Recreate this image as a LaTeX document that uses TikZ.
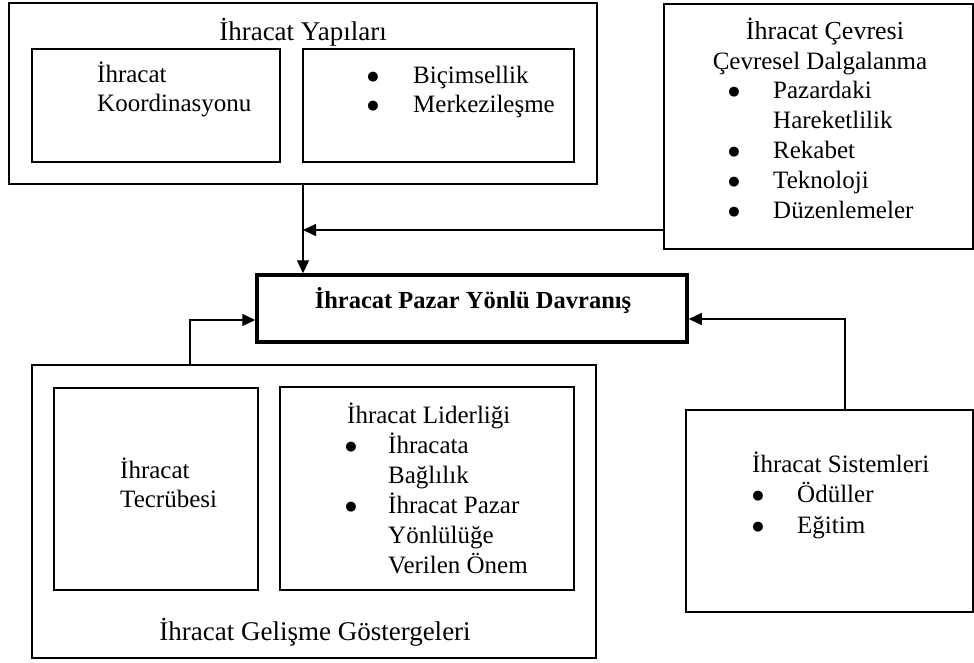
\documentclass[tikz,border=0pt]{standalone}
\usepackage{fontspec}
\setmainfont{Liberation Serif}
\newfontfamily\bulletfamily{DejaVu Sans}
\usetikzlibrary{arrows.meta}

\newcommand\bodyfont{\fontsize{25pt}{30pt}\selectfont}
\newcommand\titlefont{\fontsize{27pt}{32pt}\selectfont}
\newcommand\keyfont{\fontsize{24.5pt}{29pt}\selectfont\bfseries}
\newcommand\bulletfont{\bulletfamily\fontsize{13pt}{16pt}\selectfont}

\tikzset{
  box/.style={draw, line width=1.3pt, inner sep=0pt, rectangle},
  keybox/.style={draw, line width=3.5pt, inner sep=0pt, rectangle},
  txt/.style={anchor=base west, inner sep=0pt, font=\bodyfont},
  ctxt/.style={anchor=base, inner sep=0pt, font=\bodyfont},
  ttl/.style={anchor=base, inner sep=0pt, font=\titlefont},
  % list bullet, its dot about 7.5pt above the text baseline
  blt/.style={anchor=base, inner sep=0pt, font=\bulletfont, yshift=3pt},
  arr/.style={line width=1.3pt, -{Triangle[length=13pt,width=12pt]}},
}

\begin{document}
\begin{tikzpicture}[x=1pt, y=-1pt]
\useasboundingbox (0,0) rectangle (974,662);

% --- boxes ---
\node[box, minimum width=588pt, minimum height=181pt] (yap) at (303,93.5) {};
\node[box, minimum width=248pt, minimum height=113pt] (koo) at (156,105.5) {};
\node[box, minimum width=271pt, minimum height=113pt] (bic) at (438.5,105.5) {};
\node[box, minimum width=309pt, minimum height=245pt] (cev) at (818.5,126.5) {};
\node[keybox, minimum width=430pt, minimum height=67pt] (dav) at (472,308.5) {};
\node[box, minimum width=564pt, minimum height=293pt] (gel) at (314,511.5) {};
\node[box, minimum width=204pt, minimum height=202pt] (tec) at (156,489) {};
\node[box, minimum width=294pt, minimum height=203pt] (lid) at (427,488.5) {};
\node[box, minimum width=287pt, minimum height=202pt] (sis) at (829.5,511) {};

% --- export structures ---
\node[ttl] (yapT) at (303,40) {İhracat Yapıları};
\node[txt] (koo1) at (97,82) {İhracat};
\node[txt] (koo2) at (97,111) {Koordinasyonu};
\node[blt] (bicB1) at (373,83) {●};
\node[blt] (bicB2) at (373,112) {●};
\node[txt] (bic1) at (413,83) {Biçimsellik};
\node[txt] (bic2) at (413,112) {Merkezileşme};

% --- export environment ---
\node[anchor=base, inner sep=0pt, font=\fontsize{26pt}{31pt}\selectfont] (cevT) at (825,39) {İhracat Çevresi};
\node[ctxt] (cevS) at (820,69) {Çevresel Dalgalanma};
\node[blt] (cevB1) at (734,98) {●};
\node[blt] (cevB2) at (734,158) {●};
\node[blt] (cevB3) at (734,188) {●};
\node[blt] (cevB4) at (734,218) {●};
\node[txt] (cev1) at (773,98) {Pazardaki};
\node[txt] (cev2) at (773,128) {Hareketlilik};
\node[txt] (cev3) at (773,158) {Rekabet};
\node[txt] (cev4) at (773,188) {Teknoloji};
\node[txt] (cev5) at (773,218) {Düzenlemeler};

% --- central behaviour ---
\node[anchor=base, inner sep=0pt, font=\keyfont] (davT) at (473,308) {İhracat Pazar Yönlü Davranış};

% --- development indicators ---
\node[txt] (tec1) at (120,478) {İhracat};
\node[txt] (tec2) at (120,507) {Tecrübesi};
\node[txt] (lidT) at (347,423) {İhracat Liderliği};
\node[blt] (lidB1) at (351,453) {●};
\node[blt] (lidB2) at (351,513) {●};
\node[txt] (lid1) at (388,453) {İhracata};
\node[txt] (lid2) at (388,483) {Bağlılık};
\node[txt] (lid3) at (388,513) {İhracat Pazar};
\node[txt] (lid4) at (388,543) {Yönlülüğe};
\node[txt] (lid5) at (388,573) {Verilen Önem};
\node[ttl] (gelT) at (315,640) {İhracat Gelişme Göstergeleri};

% --- export systems ---
\node[txt] (sisT) at (752,472) {İhracat Sistemleri};
\node[blt] (sisB1) at (758,502) {●};
\node[blt] (sisB2) at (758,533) {●};
\node[txt] (sis1) at (797,502) {Ödüller};
\node[txt] (sis2) at (797,533) {Eğitim};

% --- connectors ---
\coordinate (join) at (303,230);
\coordinate (gelUp) at (190,365);
\coordinate (sisUp) at (845,410);
\draw[arr] (yap.south) -- (yap.south |- dav.north);
\draw[arr] (cev.west |- join) -- (join);
\draw[arr] (gelUp) |- ([yshift=-11.5pt]dav.west);
\draw[arr] (sisUp) |- ([yshift=-10.5pt]dav.east);
\end{tikzpicture}
\end{document}
